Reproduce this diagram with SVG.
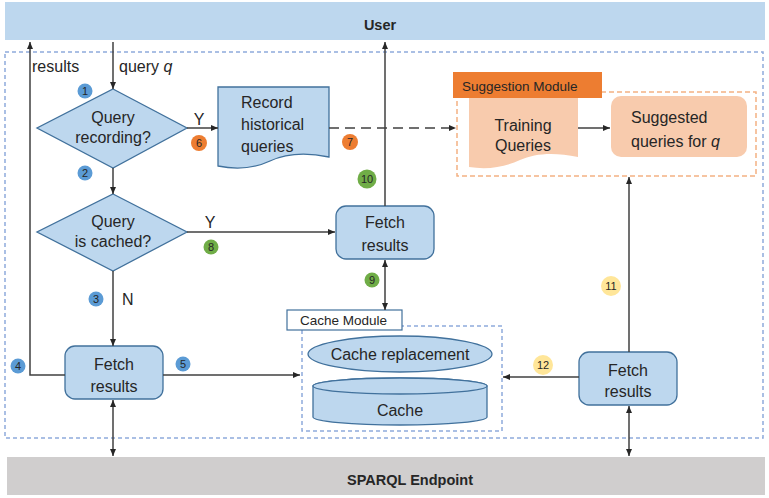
<svg xmlns="http://www.w3.org/2000/svg" width="769" height="498" viewBox="0 0 769 498">
<style>
text{font-family:"Liberation Sans",Arial,sans-serif;fill:#262626}
.t{font-size:16px}
.b{font-weight:bold;font-size:14.5px}
.m{font-size:13.5px}
.bl{fill:#bdd7ee;stroke:#41719c;stroke-width:1.3}
.or{fill:#f8cbad;stroke:none}
.ln{stroke:#404040;stroke-width:1.5;fill:none}
.bd{font-size:11px;text-anchor:middle}
.c{text-anchor:middle}
</style>
<defs>
<marker id="ah" markerWidth="8" markerHeight="8" refX="7" refY="4" orient="auto-start-reverse" markerUnits="userSpaceOnUse">
<path d="M0,1 L7,4 L0,7 Z" fill="#262626"/>
</marker>
</defs>
<g id="user"><rect x="5" y="2" width="760" height="38" fill="#bdd7ee"/><text x="380" y="30" class="b c">User</text></g>
<g id="sparql"><rect x="7" y="457" width="758" height="38" fill="#d0cece"/><text x="410" y="485" class="b c">SPARQL Endpoint</text></g>
<g id="system"><rect x="5" y="52" width="758" height="386" fill="none" stroke="#8faadc" stroke-width="1.5" stroke-dasharray="4,3"/></g>
<g id="suggestion-module">
<rect x="457" y="92" width="299" height="84" fill="none" stroke="#f4b183" stroke-width="1.5" stroke-dasharray="5,3"/>
<rect x="453" y="72" width="149" height="26" fill="#ed7d31"/>
<text x="462" y="91" class="m">Suggestion Module</text>
</g>
<g id="training"><path class="or" d="M469,98 H578 V157 C555,152 535,153 520,160 C505,167 488,170 469,167 Z"/><text x="523" y="131" class="t c">Training</text><text x="523" y="151" class="t c">Queries</text></g>
<g id="suggested"><rect class="or" x="611" y="96" width="136" height="61" rx="10"/><text x="631" y="123" class="t">Suggested</text><text x="631" y="147" class="t">queries for <tspan font-style="italic">q</tspan></text></g>
<g id="diamond1"><path class="bl" d="M113,89 L187,128 L113,168 L37,128 Z"/><text x="113" y="123" class="t c">Query</text><text x="113" y="143" class="t c">recording?</text></g>
<g id="record"><path class="bl" d="M218,87 H329 V157 C305,152 285,154 270,161 C255,168 237,170 218,166 Z"/><text x="241" y="108" class="t">Record</text><text x="241" y="130" class="t">historical</text><text x="241" y="152" class="t">queries</text></g>
<g id="diamond2"><path class="bl" d="M113,194 L187,232 L113,271 L37,232 Z"/><text x="113" y="227" class="t c">Query</text><text x="113" y="247" class="t c">is cached?</text></g>
<g id="fetch-mid"><rect class="bl" x="336" y="206" width="98" height="53" rx="10"/><text x="385" y="228" class="t c">Fetch</text><text x="385" y="251" class="t c">results</text></g>
<g id="fetch-left"><rect class="bl" x="65" y="346" width="98" height="53" rx="10"/><text x="114" y="370" class="t c">Fetch</text><text x="114" y="392" class="t c">results</text></g>
<g id="fetch-right"><rect class="bl" x="579" y="352" width="98" height="53" rx="10"/><text x="628" y="376" class="t c">Fetch</text><text x="628" y="397" class="t c">results</text></g>
<g id="cache-module">
<rect x="302" y="326" width="200" height="105" fill="none" stroke="#8faadc" stroke-width="1.5" stroke-dasharray="4,3"/>
<rect x="287" y="310" width="115" height="20" fill="#fff" stroke="#41719c" stroke-width="1.2"/>
<text x="300" y="325" class="m">Cache Module</text>
<ellipse class="bl" cx="400" cy="354" rx="92" ry="18"/><text x="400" y="360" class="t c">Cache replacement</text>
<path class="bl" d="M313,386 A87,8 0 0 1 487,386 V417 A87,8 0 0 1 313,417 Z"/><ellipse cx="400" cy="386" rx="87" ry="8" fill="#bdd7ee" stroke="#41719c" stroke-width="1.3"/>
<text x="400" y="416" class="t c">Cache</text>
</g>
<g id="connectors">
<path class="ln" d="M65,375 H30 V42" marker-end="url(#ah)"/>
<path class="ln" d="M113,42 V89" marker-end="url(#ah)"/>
<path class="ln" d="M113,168 V194" marker-end="url(#ah)"/>
<path class="ln" d="M187,128 H218" marker-end="url(#ah)"/>
<path d="M329,128 H456" stroke="#404040" stroke-width="1.5" stroke-dasharray="10,6" fill="none" marker-end="url(#ah)"/>
<path class="ln" d="M578,128 H610" marker-end="url(#ah)"/>
<path class="ln" d="M385,206 V42" marker-end="url(#ah)"/>
<path class="ln" d="M187,232 H335" marker-end="url(#ah)"/>
<path class="ln" d="M385,260 V310" marker-start="url(#ah)" marker-end="url(#ah)"/>
<path class="ln" d="M113,271 V346" marker-end="url(#ah)"/>
<path class="ln" d="M163,375 H300" marker-end="url(#ah)"/>
<path class="ln" d="M113,400 V456" marker-start="url(#ah)" marker-end="url(#ah)"/>
<path class="ln" d="M579,377 H503" marker-end="url(#ah)"/>
<path class="ln" d="M629,352 V177" marker-end="url(#ah)"/>
<path class="ln" d="M629,406 V456" marker-start="url(#ah)" marker-end="url(#ah)"/>
</g>
<g id="labels">
<text x="32" y="72" class="t">results</text>
<text x="119" y="72" class="t">query <tspan font-style="italic">q</tspan></text>
<text x="199" y="125" class="t c">Y</text>
<text x="210" y="228" class="t c">Y</text>
<text x="122" y="305" class="t">N</text>
</g>
<g id="badges">
<circle cx="85" cy="91" r="7.5" fill="#5b9bd5"/><text x="85" y="95" class="bd">1</text>
<circle cx="85" cy="173" r="7.5" fill="#5b9bd5"/><text x="85" y="177" class="bd">2</text>
<circle cx="96" cy="299" r="7.5" fill="#5b9bd5"/><text x="96" y="303" class="bd">3</text>
<circle cx="18" cy="366" r="7.5" fill="#5b9bd5"/><text x="18" y="370" class="bd">4</text>
<circle cx="183" cy="364" r="7.5" fill="#5b9bd5"/><text x="183" y="368" class="bd">5</text>
<circle cx="199" cy="143" r="8" fill="#ed7d31"/><text x="199" y="147" class="bd">6</text>
<circle cx="350" cy="142" r="8" fill="#ed7d31"/><text x="350" y="146" class="bd">7</text>
<circle cx="211" cy="247" r="7.5" fill="#70ad47"/><text x="211" y="251" class="bd">8</text>
<circle cx="372" cy="280" r="7.5" fill="#70ad47"/><text x="372" y="284" class="bd">9</text>
<circle cx="367" cy="179" r="9.5" fill="#70ad47"/><text x="367" y="183" class="bd">10</text>
<circle cx="611" cy="286" r="10" fill="#ffe699"/><text x="611" y="290" class="bd">11</text>
<circle cx="543" cy="365" r="10" fill="#ffe699"/><text x="543" y="369" class="bd">12</text>
</g>
</svg>
